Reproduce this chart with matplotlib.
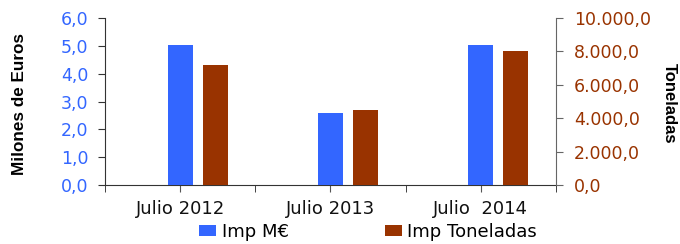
import numpy as np
import matplotlib.pyplot as plt
from matplotlib.ticker import FuncFormatter, FixedLocator

# data
categories = ['Julio 2012', 'Julio 2013', 'Julio  2014']
imp_meur = [5.03, 2.59, 5.03]          # millones de euros (left axis)
imp_ton = [7190, 4490, 8020]           # toneladas (right axis)

blue = '#3366FF'
brown = '#993300'

plt.rcParams['font.family'] = ['DejaVu Sans']

fig = plt.figure(figsize=(6.8, 2.44), dpi=100)
ax = fig.add_axes([0.1544, 0.2418, 0.6632, 0.6844])
ax2 = ax.twinx()

x = np.arange(len(categories))
w = 1 / 6
b1 = ax.bar(x, imp_meur, width=w, color=blue, label='Imp M€', zorder=3)
b2 = ax2.bar(x + 0.2333, imp_ton, width=w, color=brown, label='Imp Toneladas', zorder=3)

ax.set_xlim(-0.5, 2.5)
ax.set_ylim(0, 6)
ax2.set_ylim(0, 10000)
ax.set_yticks(np.arange(0, 7, 1))
ax2.set_yticks(np.arange(0, 10001, 2000))

def es_fmt(v, pos):
    s = f'{v:,.1f}'
    return s.replace(',', 'X').replace('.', ',').replace('X', '.')

ax.yaxis.set_major_formatter(FuncFormatter(es_fmt))
ax2.yaxis.set_major_formatter(FuncFormatter(es_fmt))

ax.set_xticks(x)
ax.set_xticklabels(categories)
ax.xaxis.set_minor_locator(FixedLocator([-0.5, 0.5, 1.5, 2.5]))

for a in (ax, ax2):
    a.spines['top'].set_visible(False)
ax.spines['right'].set_visible(False)
ax2.spines['left'].set_visible(False)
ax2.spines['bottom'].set_visible(False)
ax.spines['left'].set_color('#333333')
ax.spines['bottom'].set_color('#333333')
ax2.spines['right'].set_color('#666666')

ax.tick_params(axis='y', colors='#333333', labelcolor=blue, labelsize=12.5,
               length=5, direction='out', pad=7)
ax2.tick_params(axis='y', colors='#666666', labelcolor=brown, labelsize=12.5,
                length=5, direction='out', pad=8)
ax.tick_params(axis='x', which='both', colors='#555555', labelcolor='#111111',
               labelsize=13, length=5, direction='out', pad=6)
ax.tick_params(axis='x', which='minor', colors='#222222')

fig.text(0.028, 0.575, 'Milones de Euros', rotation=90, ha='center', va='center',
         fontsize=12.3, fontweight='bold', family='Liberation Sans')
fig.text(0.984, 0.575, 'Toneladas', rotation=-90, ha='center', va='center',
         fontsize=12, fontweight='bold', family='Liberation Sans')

fig.legend(handles=[b1, b2], loc='center left', bbox_to_anchor=(0.293, 0.05),
           ncol=2, frameon=False, fontsize=13, handlelength=0.95, handleheight=0.6,
           handletextpad=0.3, columnspacing=5.3, borderpad=0, borderaxespad=0)

fig.savefig('out.png', dpi=100)
